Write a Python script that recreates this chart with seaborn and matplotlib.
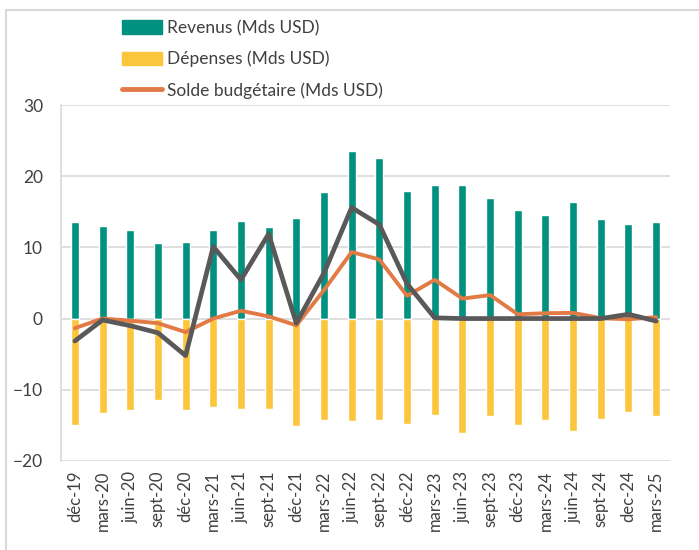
import matplotlib.pyplot as plt
import matplotlib.lines as mlines
import matplotlib.patches as mpatches
import seaborn as sns
import pandas as pd

periods = ["déc-19", "mars-20", "juin-20", "sept-20", "déc-20", "mars-21", "juin-21",
           "sept-21", "déc-21", "mars-22", "juin-22", "sept-22", "déc-22", "mars-23",
           "juin-23", "sept-23", "déc-23", "mars-24", "juin-24", "sept-24", "dec-24",
           "mars-25"]
revenus = [13.6, 13.05, 12.4, 10.65, 10.8, 12.4, 13.75, 12.9, 14.1, 17.8, 23.6,
           22.5, 17.9, 18.8, 18.8, 16.95, 15.2, 14.6, 16.4, 14.0, 13.3, 13.5]
depenses = [-15.0, -13.2, -12.8, -11.45, -12.8, -12.4, -12.7, -12.7, -15.1, -14.2, -14.4,
            -14.3, -14.8, -13.5, -16.1, -13.7, -14.9, -14.2, -15.8, -14.1, -13.1, -13.75]
solde = [-1.35, 0.0, -0.3, -0.65, -1.9, 0.0, 1.1, 0.3, -0.95, 4.0, 9.35,
         8.3, 3.2, 5.45, 2.8, 3.3, 0.6, 0.75, 0.8, 0.05, -0.1, 0.2]
serie_grise = [-3.15, -0.2, -1.0, -2.0, -5.2, 10.1, 5.45, 11.9, -0.65, 6.4, 15.6,
               13.2, 4.9, 0.1, 0.0, 0.0, 0.0, 0.0, 0.0, 0.0, 0.6, -0.35]

TEAL = "#009180"
YELLOW = "#FCC63C"
ORANGE = "#E27A45"
GREY = "#595959"

df = pd.DataFrame({"periode": periods, "revenus": revenus, "depenses": depenses,
                   "solde": solde, "gris": serie_grise, "pos": range(len(periods))})

sns.set_style("white")
plt.rcParams["font.family"] = ["Lato", "DejaVu Sans"]

fig = plt.figure(figsize=(6.99, 5.5), dpi=100)
ax = fig.add_axes([0.0873, 0.162, 0.8712, 0.647])

sns.barplot(data=df, x="periode", y="revenus", color=TEAL, width=0.29,
            saturation=1, ax=ax)
sns.barplot(data=df, x="periode", y="depenses", color=YELLOW, width=0.29,
            saturation=1, ax=ax)
sns.lineplot(data=df, x="pos", y="solde", color=ORANGE, linewidth=2.8, ax=ax,
             solid_capstyle="round", solid_joinstyle="round")
sns.lineplot(data=df, x="pos", y="gris", color=GREY, linewidth=3.4, ax=ax,
             solid_capstyle="round", solid_joinstyle="round")

ax.set_xlim(-0.5, len(periods) - 0.5)
ax.set_ylim(-20, 30)
ax.set_yticks([-20, -10, 0, 10, 20, 30])
ax.set_xticks(range(len(periods)))
ax.set_xticklabels(periods, rotation=90, fontsize=12, color="#404040")
ax.tick_params(axis="y", labelsize=12.5, labelcolor="#404040", length=0, pad=13)
ax.tick_params(axis="x", length=0, pad=7)
ax.set_xlabel("")
ax.set_ylabel("")
ax.grid(axis="y", color="#D9D9D9", linewidth=1.2)
ax.set_axisbelow(True)
for side in ["top", "right", "bottom"]:
    ax.spines[side].set_visible(False)
ax.spines["left"].set_color("#D9D9D9")
ax.spines["left"].set_linewidth(1.2)

handles = [
    mpatches.Patch(color=TEAL, label="Revenus (Mds USD)"),
    mpatches.Patch(color=YELLOW, label="Dépenses (Mds USD)"),
    mlines.Line2D([], [], color=ORANGE, linewidth=3.5, solid_capstyle="round",
                  label="Solde budgétaire (Mds USD)"),
]
fig.legend(handles=handles, loc="upper left", bbox_to_anchor=(0.152, 0.992),
           frameon=False, fontsize=12.5, handlelength=2.3, handleheight=0.8,
           handletextpad=0.3, labelspacing=0.85, labelcolor="#404040")

# light frame around the chart area
fig.add_artist(mlines.Line2D([0.008, 0.008], [0.0, 0.982], transform=fig.transFigure,
                             color="#D9D9D9", linewidth=1.5))
fig.add_artist(mlines.Line2D([0.008, 1.0], [0.982, 0.982], transform=fig.transFigure,
                             color="#D9D9D9", linewidth=1.5))

fig.savefig("out.png", dpi=100)
